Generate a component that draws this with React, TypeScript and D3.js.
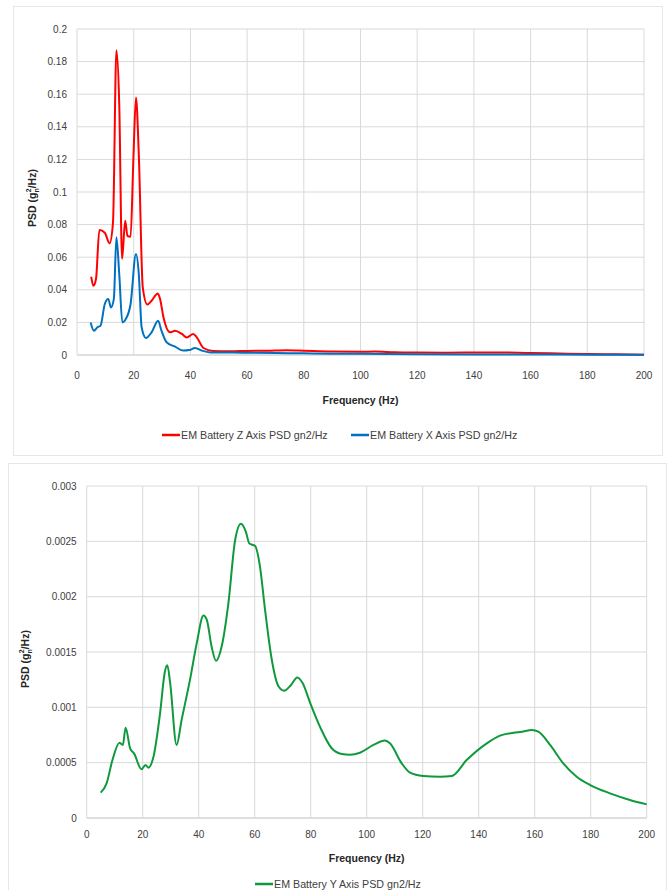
import React from "react";
import * as d3 from "d3";

// ---- Data ----
const zFreq = [5, 5.8, 6.7, 7.9, 9.8, 11.5, 12.7, 13.9, 14.9, 15.9, 17.0, 17.8, 18.9, 19.9, 20.8, 21.8, 23.2, 24.8, 26.3, 28.5, 29.3, 30.5, 32.8, 34.6, 37, 38.7, 41, 42.2, 44.6, 48, 54, 60, 67, 74, 80, 90, 100, 105, 112, 120, 130, 140, 148, 160, 170, 180, 190, 200];
const zPsd = [0.048, 0.0425, 0.0466, 0.0767, 0.075, 0.0685, 0.0814, 0.187, 0.154, 0.059, 0.0824, 0.073, 0.0726, 0.121, 0.158, 0.123, 0.0415, 0.031, 0.0333, 0.0378, 0.0344, 0.0231, 0.0139, 0.0149, 0.0129, 0.0108, 0.0129, 0.011, 0.0043, 0.0025, 0.0023, 0.0025, 0.0026, 0.0029, 0.0026, 0.0021, 0.002, 0.0021, 0.0017, 0.0015, 0.0014, 0.0015, 0.0016, 0.0012, 0.0009, 0.0006, 0.0004, 0.0002];

const xFreq = [4.8, 6, 7.2, 8.3, 9.8, 11, 12, 13, 13.9, 14.9, 16, 17.2, 18.9, 20.8, 21.8, 22.8, 24.3, 26.3, 28.6, 29.8, 31.6, 34.6, 37.5, 39.6, 41.6, 44, 47, 55, 60, 70, 80, 90, 100, 120, 140, 160, 180, 200];
const xPsd = [0.02, 0.0149, 0.017, 0.018, 0.0313, 0.0344, 0.0292, 0.0344, 0.0722, 0.0497, 0.02, 0.022, 0.0313, 0.062, 0.0497, 0.017, 0.0104, 0.0139, 0.021, 0.0149, 0.0078, 0.0051, 0.0027, 0.003, 0.0043, 0.0027, 0.0016, 0.0015, 0.0014, 0.0012, 0.001, 0.0008, 0.0007, 0.0004, 0.0003, 0.0003, 0.0002, 0.0002];

const yFreq = [5, 7.1, 9.2, 11.7, 12.9, 13.9, 15.5, 16.9, 19.6, 21, 22, 23.8, 26.2, 27.9, 28.8, 29.8, 32.1, 33.9, 36.9, 39.3, 41.7, 42.9, 44.6, 46.2, 48.2, 50.6, 53, 55.1, 56.8, 58.1, 60.1, 61.9, 63.7, 66.1, 68.5, 70.5, 72.9, 75.2, 77.1, 79.8, 83.3, 87.5, 91.1, 94, 97.6, 102.4, 106.5, 108.3, 112.5, 115.5, 120.2, 126.2, 130.4, 135.7, 142.9, 147.6, 152.4, 155.4, 159, 161.3, 165.5, 170.2, 175, 179.8, 186.9, 194, 200];
const yPsd = [0.000229, 0.000313, 0.000524, 0.00068, 0.00066, 0.000816, 0.00063, 0.000584, 0.00044, 0.00048, 0.000455, 0.000548, 0.000946, 0.00132, 0.00138, 0.00122, 0.00066, 0.000886, 0.00125, 0.00158, 0.00183, 0.00179, 0.00155, 0.00142, 0.00155, 0.00194, 0.00251, 0.00266, 0.00259, 0.00248, 0.00246, 0.00227, 0.00188, 0.00143, 0.00119, 0.00115, 0.0012, 0.00127, 0.00122, 0.00104, 0.000825, 0.00063, 0.000578, 0.000572, 0.00059, 0.00066, 0.0007, 0.000675, 0.000494, 0.00041, 0.00038, 0.000373, 0.00038, 0.000524, 0.000675, 0.000744, 0.00077, 0.00078, 0.000795, 0.00078, 0.00066, 0.000494, 0.000373, 0.000298, 0.000223, 0.000163, 0.000123];

const freqTicks = [0, 20, 40, 60, 80, 100, 120, 140, 160, 180, 200];
const topTicks = [0, 0.02, 0.04, 0.06, 0.08, 0.1, 0.12, 0.14, 0.16, 0.18, 0.2];
const bottomTicks = [0, 0.0005, 0.001, 0.0015, 0.002, 0.0025, 0.003];

const zLabel = "EM Battery Z Axis PSD gn2/Hz";
const xLabel = "EM Battery X Axis PSD gn2/Hz";
const yLabel = "EM Battery Y Axis PSD gn2/Hz";

const FONT = "'Liberation Sans', Arial, sans-serif";
const GRID = "#D9D9D9";
const TEXT = "#404040";

type Series = { freq: number[]; psd: number[]; color: string };

function Panel(props: {
  box: [number, number, number, number];
  plot: { l: number; r: number; t: number; b: number };
  yMax: number;
  yTicks: number[];
  fmt: (v: number) => string;
  series: Series[];
  titleY: number;
  titleX: number;
  xTitleY: number;
  xLabelY: number;
  legend: { x: number; label: string; color: string }[];
  legendY: number;
}) {
  const { box, plot, yMax, yTicks, fmt, series } = props;
  const x = d3.scaleLinear().domain([0, 200]).range([plot.l, plot.r]);
  const y = d3.scaleLinear().domain([0, yMax]).range([plot.b, plot.t]);
  const line = d3
    .line<[number, number]>()
    .x((d) => x(d[0]))
    .y((d) => y(d[1]))
    .curve(d3.curveMonotoneX);
  return (
    <g>
      <rect x={box[0] + 0.5} y={box[1] + 0.5} width={box[2]} height={box[3]} fill="#fff" stroke="#E6E6E6" />
      {yTicks.map((t) => (
        <line key={"h" + t} x1={plot.l} x2={plot.r} y1={y(t)} y2={y(t)} stroke={t === 0 ? "#BFBFBF" : GRID} strokeWidth={1} />
      ))}
      {freqTicks.map((t) => (
        <line key={"v" + t} x1={x(t)} x2={x(t)} y1={plot.t} y2={plot.b} stroke={GRID} strokeWidth={1} />
      ))}
      {yTicks.map((t) => (
        <text key={"yl" + t} x={plot.l - 10} y={y(t)} dy="0.35em" textAnchor="end" fontSize={10} fill={TEXT} fontFamily={FONT}>
          {fmt(t)}
        </text>
      ))}
      {freqTicks.map((t) => (
        <text key={"xl" + t} x={x(t)} y={props.xLabelY} dy="0.35em" textAnchor="middle" fontSize={10} fill={TEXT} fontFamily={FONT}>
          {t}
        </text>
      ))}
      <text x={(plot.l + plot.r) / 2} y={props.xTitleY} dy="0.35em" textAnchor="middle" fontSize={10.5} fontWeight="bold" fill="#262626" fontFamily={FONT}>
        Frequency (Hz)
      </text>
      <text
        transform={`translate(${props.titleX},${props.titleY}) rotate(-90)`}
        textAnchor="middle"
        dy="0.35em"
        fontSize={10.5}
        fontWeight="bold"
        fill="#262626"
        fontFamily={FONT}
      >
        PSD (g
        <tspan fontSize={7} dy="3">n</tspan>
        <tspan fontSize={7} dx="-4" dy="-8">2</tspan>
        <tspan dy="5">/Hz)</tspan>
      </text>
      {series.map((s, i) => (
        <path
          key={i}
          d={line(s.freq.map((f, j) => [f, s.psd[j]] as [number, number])) || ""}
          fill="none"
          stroke={s.color}
          strokeWidth={2}
          strokeLinejoin="round"
        />
      ))}
      {props.legend.map((lg) => (
        <g key={lg.label}>
          <line x1={lg.x} x2={lg.x + 18} y1={props.legendY} y2={props.legendY} stroke={lg.color} strokeWidth={2.5} />
          <text x={lg.x + 19} y={props.legendY} dy="0.35em" fontSize={10.7} fill={TEXT} fontFamily={FONT}>
            {lg.label}
          </text>
        </g>
      ))}
    </g>
  );
}

export default function App() {
  const fmtTop = (v: number) => String(+v.toFixed(2));
  const fmtBottom = (v: number) => String(+v.toFixed(4));
  return (
    <div>
      <style>{`body{margin:0}`}</style>
      <svg width={672} height={890} style={{ display: "block", background: "#fff" }}>
        <Panel
          box={[13, 6, 649, 449]}
          plot={{ l: 77, r: 644, t: 29, b: 355 }}
          yMax={0.2}
          yTicks={topTicks}
          fmt={fmtTop}
          series={[
            { freq: zFreq, psd: zPsd, color: "#FF0000" },
            { freq: xFreq, psd: xPsd, color: "#0070C0" },
          ]}
          titleX={32}
          titleY={198}
          xLabelY={375}
          xTitleY={400}
          legend={[
            { x: 162, label: zLabel, color: "#FF0000" },
            { x: 351, label: xLabel, color: "#0070C0" },
          ]}
          legendY={435}
        />
        <Panel
          box={[8, 463, 658, 440]}
          plot={{ l: 86.7, r: 646.7, t: 486, b: 818 }}
          yMax={0.003}
          yTicks={bottomTicks}
          fmt={fmtBottom}
          series={[{ freq: yFreq, psd: yPsd, color: "#0E9A3C" }]}
          titleX={25}
          titleY={659}
          xLabelY={834}
          xTitleY={858}
          legend={[{ x: 255, label: yLabel, color: "#0E9A3C" }]}
          legendY={884}
        />
      </svg>
    </div>
  );
}
